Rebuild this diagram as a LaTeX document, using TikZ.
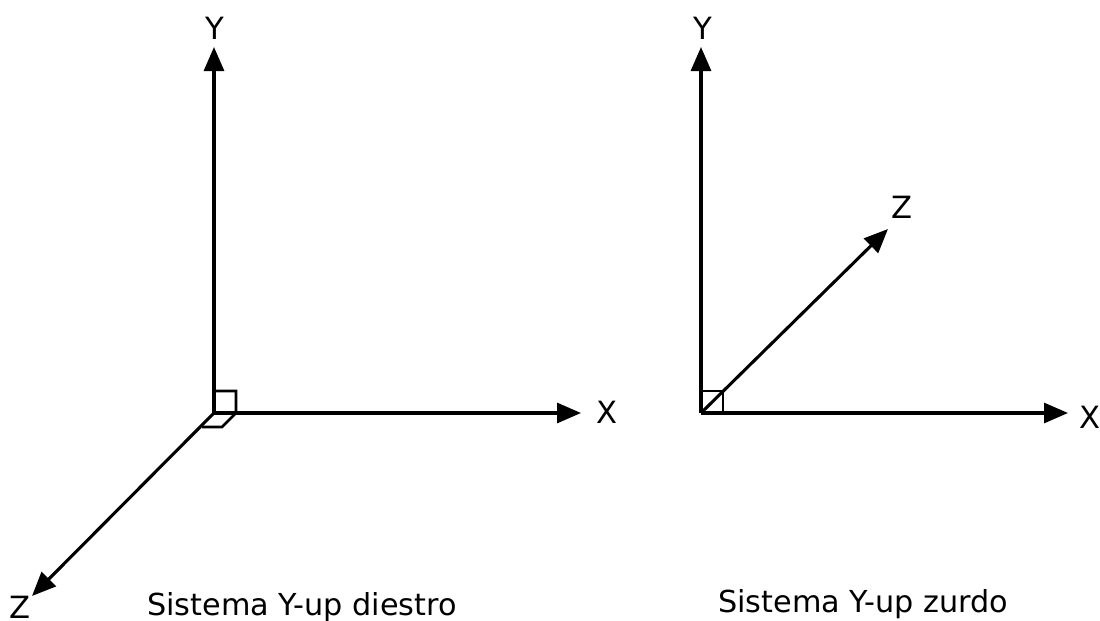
\documentclass[tikz,border=0pt]{standalone}
\usepackage{fontspec}
\setmainfont{DejaVu Sans}
\usetikzlibrary{arrows.meta}
\tikzset{
  px/.style={x=0.75pt,y=-0.75pt},
  axis/.style={line width=2.3pt,-{Triangle[length=18pt,width=15pt]}},
  mark line/.style={line width=2.1pt,line join=miter},
  axlabel/.style={font=\fontsize{23}{26}\selectfont,inner sep=0pt,text=black},
  caption/.style={font=\fontsize{22.7}{26}\selectfont,inner sep=0pt,anchor=base west,text=black}
}
\begin{document}
\begin{tikzpicture}[px]
\useasboundingbox (0,0) rectangle (1100,621);
% left system
\coordinate (o1) at (214,413);
\coordinate (y1) at (214,47);
\coordinate (x1) at (581,413);
\coordinate (z1) at (32,596);
\coordinate (s1a) at (214,391);
\coordinate (s1b) at (236,391);
\coordinate (s1c) at (236,413);
\coordinate (s1d) at (222,427);
\coordinate (s1e) at (202,427);
\draw[axis] (o1) -- (y1);
\draw[axis] (o1) -- (x1);
\draw[axis] (o1) -- (z1);
\draw[mark line] (s1a) -- (s1b) -- (s1c) -- (s1d) -- (s1e);
\node[axlabel] (ly1) at (215,28) {Y};
\node[axlabel] (lx1) at (607,412) {X};
\node[axlabel] (lz1) at (20,607) {Z};
\node[caption] (c1) at (147,615) {Sistema Y-up diestro};
% right system
\coordinate (o2) at (701,413);
\coordinate (y2) at (701,47);
\coordinate (x2) at (1068,413);
\coordinate (z2) at (888,229);
\coordinate (s2a) at (701,391);
\coordinate (s2b) at (723,391);
\coordinate (s2c) at (723,413);
\draw[axis] (o2) -- (y2);
\draw[axis] (o2) -- (x2);
\draw[axis] (o2) -- (z2);
\draw[mark line] (s2a) -- (s2b) -- (s2c);
\node[axlabel] (ly2) at (703,28) {Y};
\node[axlabel] (lx2) at (1090,417) {X};
\node[axlabel] (lz2) at (902,207) {Z};
\node[caption] (c2) at (718,612) {Sistema Y-up zurdo};
\end{tikzpicture}
\end{document}
